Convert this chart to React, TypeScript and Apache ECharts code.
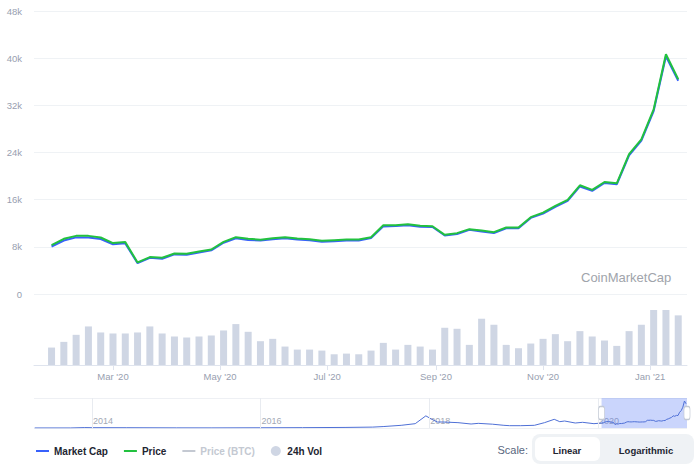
import { useEffect, useRef } from "react";
import * as echarts from "echarts";

const FONT = "'Liberation Sans', Arial, sans-serif";

// Weekly data, first point on this date, one point per week
const firstWeek = "2020-01-26";
const priceUSD = [
  8300, 9360, 9860, 9860, 9580, 8630, 8800, 5350, 6260, 6140,
  6870, 6820, 7210, 7550, 8850, 9640, 9360, 9220, 9470, 9640,
  9400, 9300, 9020, 9130, 9240, 9240, 9640, 11670, 11670, 11840,
  11560, 11500, 10030, 10320, 11000, 10760, 10490, 11270, 11270, 13030,
  13810, 14940, 15960, 18440, 17650, 19000, 18780, 23740, 26230, 31300,
  40660, 36430,
];
const marketCapB = [
  151, 170, 180, 180, 175, 158, 161, 98, 115, 112,
  126, 125, 132, 139, 163, 177, 172, 170, 174, 177,
  173, 171, 166, 168, 170, 170, 178, 215, 216, 219,
  214, 213, 186, 191, 204, 199, 194, 209, 209, 242,
  256, 277, 296, 342, 328, 353, 349, 441, 488, 582,
  756, 678,
];
const volumeB = [
  26, 34.5, 45, 57.5, 48.5, 47, 47, 48.5, 57.5, 47,
  42.5, 41, 42.5, 44, 51.5, 61, 49.5, 35.5, 39, 27.5,
  23, 23, 21.5, 16, 17, 16, 21.5, 33, 23, 30,
  27.5, 23, 55.5, 54, 30, 69, 60, 30, 25, 32,
  39, 46, 35.5, 50.5, 42.5, 36.5, 28.5, 50.5, 60, 82,
  82, 74,
];

// Full-history market cap (navigator), before the weekly window
const historyDates = [
  "2013-04-28", "2013-10-01", "2013-12-01", "2014-01-01", "2014-06-01",
  "2015-01-01", "2015-06-01", "2016-01-01", "2016-07-01", "2017-01-01",
  "2017-05-01", "2017-06-15", "2017-09-01", "2017-11-01", "2017-12-17",
  "2018-01-10", "2018-02-05", "2018-03-01", "2018-05-05", "2018-07-01",
  "2018-08-01", "2018-10-01", "2018-11-20", "2018-12-15", "2019-02-01",
  "2019-04-01", "2019-05-15", "2019-06-26", "2019-07-20", "2019-08-10",
  "2019-09-25", "2019-10-27", "2019-12-15", "2020-01-17",
];
const historyCapB = [
  1.5, 1.5, 12, 9, 8,
  4, 3.5, 6.5, 10, 16,
  25, 40, 75, 121, 340,
  250, 168, 168, 150, 112,
  130, 107, 75, 65, 65,
  75, 150, 243, 177, 196,
  140, 159, 121, 140,
];

const xTickDates = ["2020-03-01", "2020-05-01", "2020-07-01", "2020-09-01", "2020-11-01", "2021-01-01"];
const xTickLabels = ["Mar '20", "May '20", "Jul '20", "Sep '20", "Nov '20", "Jan '21"];
const yearTickDates = ["2014-01-01", "2016-01-01", "2018-01-01", "2020-01-01"];
const yearTickLabels = ["2014", "2016", "2018", "2020"];

const mainRange = ["2020-01-16", "2021-01-22"];
const historyRange = ["2013-04-25", "2021-01-21"];
const selectionRange = ["2020-01-17", "2021-01-21"];

const legendNames = ["Market Cap", "Price", "Price (BTC)", "24h Vol"];

const toTs = (s: string) => new Date(s + "T00:00:00Z").getTime();
const DAY = 86400000;

const LINE_ICON = "path://M0,0 L13,0 L13,2 L0,2 Z";

export default function App() {
  const ref = useRef<HTMLDivElement>(null);

  useEffect(() => {
    if (!ref.current) return;
    const chart = echarts.init(ref.current, undefined, { renderer: "svg" });

    const weekTs = priceUSD.map((_, i) => toTs(firstWeek) + i * 7 * DAY);
    const xTickTs = xTickDates.map(toTs);
    const yearTs = yearTickDates.map(toTs);
    const miniData = [
      ...historyDates.map((d, i) => [toTs(d), historyCapB[i]]),
      ...weekTs.map((t, i) => [t, marketCapB[i]]),
    ];

    const axisGray = "#98a0b0";
    const BLUE = "#3861fb";
    const GREEN = "#22c13f";

    const option: any = {
      animation: false,
      textStyle: { fontFamily: FONT },
      grid: [
        { left: 34, right: 13, top: 11, height: 283 },
        { left: 34, right: 13, top: 310, height: 55 },
        { left: 34, right: 13, top: 398, height: 30 },
      ],
      xAxis: [
        { type: "value", gridIndex: 0, min: toTs(mainRange[0]), max: toTs(mainRange[1]), show: false, splitLine: { show: false } },
        {
          type: "value",
          gridIndex: 1,
          min: toTs(mainRange[0]),
          max: toTs(mainRange[1]),
          axisLine: { lineStyle: { color: "#dfe4ee", width: 1 } },
          axisTick: { show: true, customValues: xTickTs, length: 5, lineStyle: { color: "#dfe4ee" } },
          axisLabel: {
            customValues: xTickTs,
            formatter: (v: number) => {
              const idx = xTickTs.findIndex((t) => Math.abs(t - v) < DAY);
              return idx >= 0 ? xTickLabels[idx] : "";
            },
            color: axisGray,
            fontSize: 9.5,
            margin: 6,
            fontFamily: FONT,
          },
          splitLine: { show: false },
        },
        {
          type: "value",
          gridIndex: 2,
          min: toTs(historyRange[0]),
          max: toTs(historyRange[1]),
          axisLine: { show: false },
          axisTick: { show: false },
          splitLine: { show: false },
          axisLabel: {
            inside: true,
            customValues: yearTs,
            formatter: (v: number) => {
              const idx = yearTs.findIndex((t) => Math.abs(t - v) < DAY);
              return idx >= 0 ? yearTickLabels[idx] : "";
            },
            align: "left",
            margin: 3,
            padding: [0, 0, 0, 1],
            color: "#a3a9b5",
            fontSize: 9,
            fontFamily: FONT,
          },
        },
      ],
      yAxis: [
        {
          type: "value",
          gridIndex: 0,
          min: 0,
          max: 48000,
          interval: 8000,
          axisLine: { show: false },
          axisTick: { show: false },
          axisLabel: {
            formatter: (v: number) => (v === 0 ? "0" : v / 1000 + "k"),
            color: axisGray,
            fontSize: 9.5,
            margin: 12,
            fontFamily: FONT,
          },
          splitLine: { lineStyle: { color: "#eff2f5", width: 1 } },
        },
        { type: "value", gridIndex: 0, min: 0, max: 900, show: false, splitLine: { show: false } },
        { type: "value", gridIndex: 1, min: 0, max: 82, show: false, splitLine: { show: false } },
        {
          type: "value",
          gridIndex: 2,
          min: 0,
          max: 840,
          interval: 840,
          axisLine: { show: false },
          axisTick: { show: false },
          axisLabel: { show: false },
          splitLine: { show: true, lineStyle: { color: "#eef0f4" } },
        },
      ],
      legend: {
        data: [
          { name: legendNames[0], icon: LINE_ICON },
          { name: legendNames[1], icon: LINE_ICON },
          { name: legendNames[2], icon: LINE_ICON },
          { name: legendNames[3], icon: "circle" },
        ],
        left: 36,
        top: 446,
        padding: 0,
        itemWidth: 13,
        itemHeight: 10,
        itemGap: 16,
        selected: { [legendNames[2]]: false },
        inactiveColor: "#c4c9d2",
        inactiveBorderColor: "#c4c9d2",
        textStyle: { fontSize: 10, fontWeight: "bold", color: "#222531", fontFamily: FONT },
      },
      series: [
        {
          name: legendNames[0],
          type: "line",
          xAxisIndex: 0,
          yAxisIndex: 1,
          data: weekTs.map((t, i) => [t, marketCapB[i]]),
          symbol: "none",
          color: BLUE,
          itemStyle: { color: BLUE, borderWidth: 0 },
          lineStyle: { width: 2, color: BLUE },
          z: 2,
        },
        {
          name: legendNames[1],
          type: "line",
          xAxisIndex: 0,
          yAxisIndex: 0,
          data: weekTs.map((t, i) => [t, priceUSD[i]]),
          symbol: "none",
          color: GREEN,
          itemStyle: { color: GREEN, borderWidth: 0 },
          lineStyle: { width: 2, color: GREEN },
          z: 3,
        },
        {
          name: legendNames[2],
          type: "line",
          xAxisIndex: 0,
          yAxisIndex: 0,
          data: [],
          symbol: "none",
          color: "#c4c9d2",
        },
        {
          name: legendNames[3],
          type: "bar",
          xAxisIndex: 1,
          yAxisIndex: 2,
          data: weekTs.map((t, i) => [t, volumeB[i]]),
          barWidth: 7,
          color: "#cfd6e4",
          itemStyle: { color: "#cfd6e4" },
        },
        {
          name: "history",
          type: "line",
          xAxisIndex: 2,
          yAxisIndex: 3,
          data: miniData,
          symbol: "none",
          color: "#4f70d6",
          lineStyle: { width: 1, color: "#4f70d6" },
          silent: true,
          markLine: {
            silent: true,
            symbol: ["none", "none"],
            label: { show: false },
            lineStyle: { color: "#e8ebf0", type: "solid", width: 1 },
            data: yearTs.map((t) => ({ xAxis: t })),
          },
          markArea: {
            silent: true,
            itemStyle: { color: "rgba(90,125,245,0.32)" },
            data: [[{ xAxis: toTs(selectionRange[0]) }, { xAxis: toTs(selectionRange[1]) }]],
          },
          markPoint: {
            silent: true,
            symbol: "roundRect",
            symbolSize: [6, 13],
            itemStyle: { color: "#ffffff", borderColor: "#c3c9d4", borderWidth: 1 },
            label: { show: false },
            data: selectionRange.map((d) => ({ coord: [toTs(d), 420] })),
          },
        },
      ],
      graphic: [
        {
          type: "text",
          x: 581,
          y: 277,
          style: {
            text: "CoinMarketCap",
            fontSize: 13,
            fontFamily: FONT,
            fill: "#a0a4ab",
            align: "left",
            verticalAlign: "middle",
          },
        },
        {
          type: "text",
          x: 528,
          y: 450,
          style: {
            text: "Scale:",
            fontSize: 11,
            fontFamily: FONT,
            fill: "#58667e",
            align: "right",
            verticalAlign: "middle",
          },
        },
        {
          type: "rect",
          x: 532,
          y: 434,
          shape: { x: 0, y: 0, width: 162, height: 30, r: 8 },
          style: { fill: "#eff2f5" },
        },
        {
          type: "rect",
          x: 535,
          y: 437,
          shape: { x: 0, y: 0, width: 65, height: 24, r: 6 },
          style: { fill: "#ffffff" },
        },
        {
          type: "text",
          x: 567,
          y: 450,
          style: {
            text: "Linear",
            fontSize: 9.5,
            fontWeight: "bold",
            fontFamily: FONT,
            fill: "#222531",
            align: "center",
            verticalAlign: "middle",
          },
        },
        {
          type: "text",
          x: 646,
          y: 450,
          style: {
            text: "Logarithmic",
            fontSize: 9.5,
            fontWeight: "bold",
            fontFamily: FONT,
            fill: "#222531",
            align: "center",
            verticalAlign: "middle",
          },
        },
      ],
    };

    chart.setOption(option);
    return () => chart.dispose();
  }, []);

  return (
    <div
      ref={ref}
      style={{ position: "fixed", left: 0, top: 0, width: 700, height: 469, background: "#ffffff" }}
    />
  );
}
